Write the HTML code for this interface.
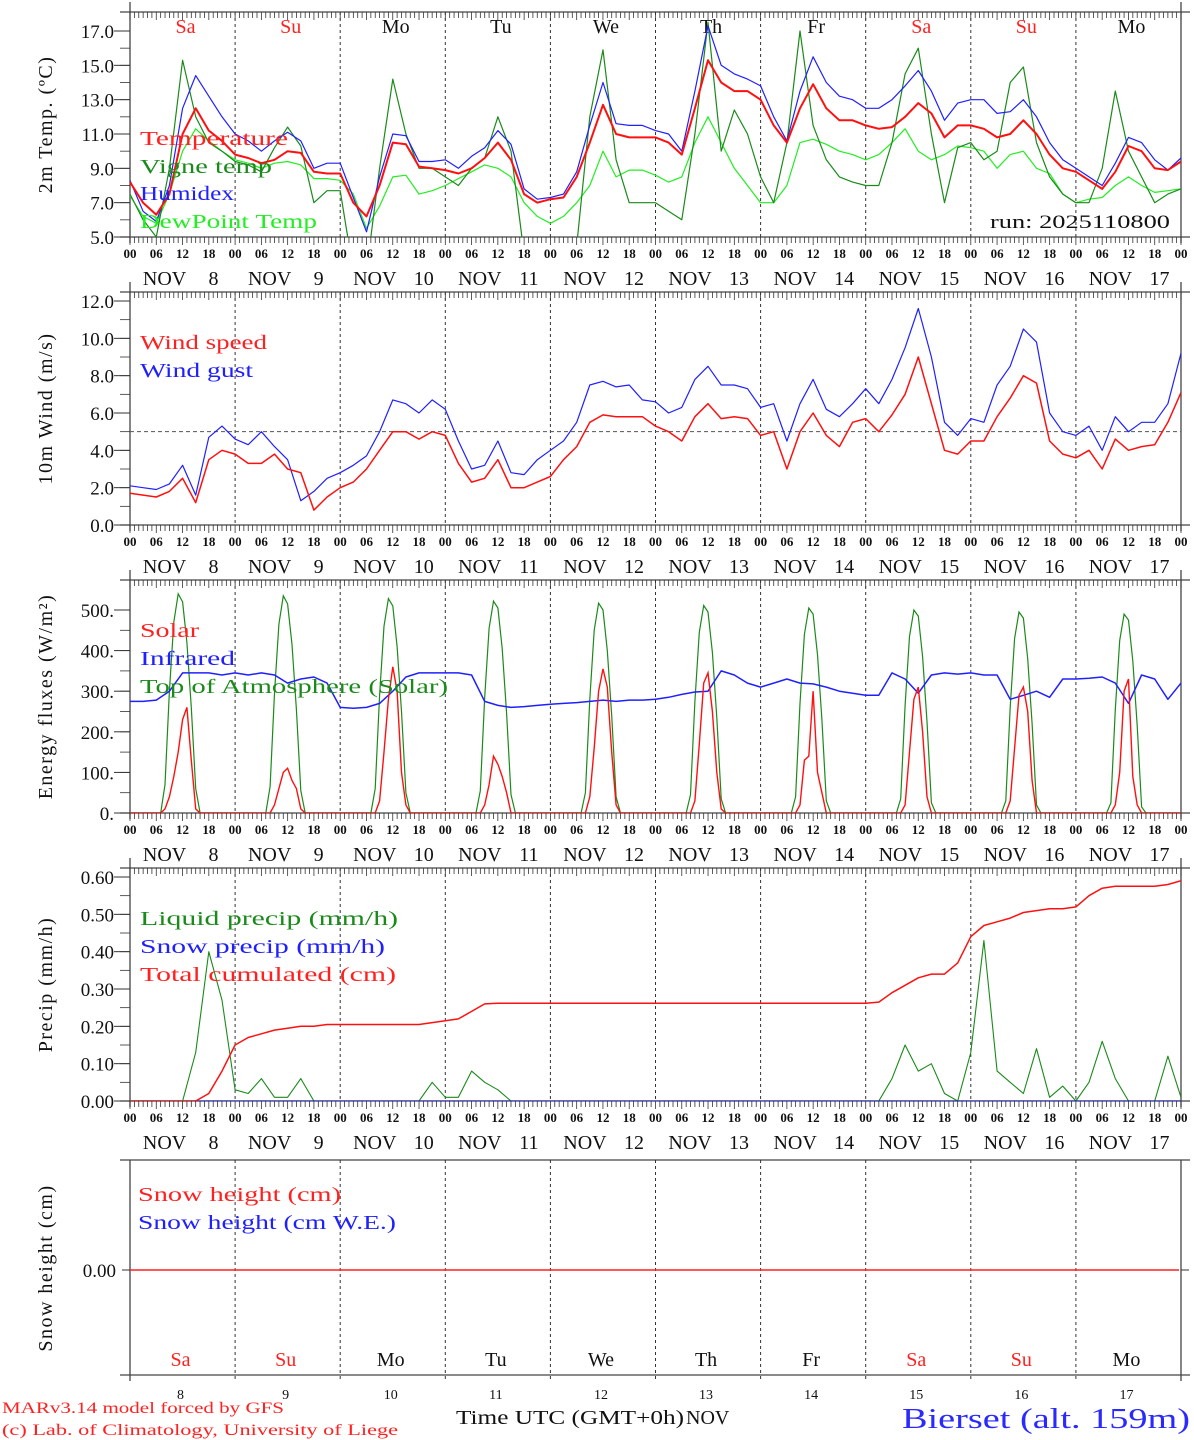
<!DOCTYPE html>
<html><head><meta charset="utf-8"><style>
html,body{margin:0;padding:0;background:#fff}
svg{display:block}
text{font-family:"Liberation Serif",serif}
</style></head><body>
<svg id="chart" width="1194" height="1440" viewBox="0 0 1194 1440" xmlns="http://www.w3.org/2000/svg"></svg>
<script>
// ---- data (3-hourly from Nov 8 00 UTC to Nov 18 00 UTC, 81 values) ----
const days = ["8","9","10","11","12","13","14","15","16","17"];
const dayNames = ["Sa","Su","Mo","Tu","We","Th","Fr","Sa","Su","Mo"];
const temperature = [8.2,7.0,6.3,7.5,11.0,12.5,11.2,10.6, 9.8,9.6,9.3,9.5,10.0,9.9,8.8,8.7, 8.7,7.0,6.2,8.0,10.5,10.4,9.1,9.0, 8.9,8.7,9.0,9.6,10.5,9.5,7.5,7.0, 7.2,7.3,8.5,10.5,12.7,11.0,10.8,10.8, 10.8,10.5,9.8,12.5,15.3,14.0,13.5,13.5, 13.0,11.5,10.5,12.5,13.9,12.5,11.8,11.8, 11.5,11.3,11.4,12.0,12.8,12.2,10.8,11.5, 11.5,11.3,10.8,11.0,11.8,11.0,9.8,9.0, 8.8,8.3,7.8,8.8,10.3,10.0,9.0,8.9,9.4];
const humidex = [8.3,6.5,5.9,8.0,12.5,14.4,13.2,12.0, 11.0,10.6,10.0,10.6,11.1,10.6,9.0,9.3, 9.3,7.3,5.3,8.5,11.0,10.9,9.4,9.4, 9.5,9.0,9.7,10.2,11.2,10.4,7.8,7.2, 7.3,7.5,8.8,11.5,14.0,11.6,11.5,11.5, 11.2,11.0,10.0,13.5,17.3,15.0,14.5,14.2, 13.8,12.0,10.6,13.5,15.5,14.0,13.2,13.0, 12.5,12.5,13.0,13.8,14.7,13.5,11.8,12.8, 13.0,13.0,12.2,12.3,13.0,12.0,10.5,9.5, 9.0,8.5,8.0,9.3,10.8,10.5,9.5,8.9,9.6];
const vigneTemp = [7.5,6.0,5.0,9.0,15.3,12.0,10.5,10.0, 9.4,9.2,8.8,10.2,11.4,10.3,7.0,7.7, 7.7,3.0,3.0,9.0,14.2,11.0,9.0,9.0, 8.5,8.0,9.0,9.6,12.0,10.0,4.0,3.0, 3.0,3.0,4.5,12.0,15.9,9.5,7.0,7.0, 7.0,6.5,6.0,11.0,17.5,10.0,12.4,11.0, 8.5,7.0,10.5,17.0,11.5,9.5,8.5,8.2, 8.0,8.0,10.5,14.5,16.0,11.0,7.0,10.2, 10.5,9.5,10.0,14.0,14.9,10.5,8.5,7.5, 7.0,7.0,9.0,13.5,10.0,8.5,7.0,7.5,7.8];
const dewPoint = [7.4,6.2,5.8,7.5,10.0,11.3,10.6,10.0, 9.5,9.3,9.0,9.3,9.4,9.2,8.4,8.4, 8.3,7.5,5.5,6.8,8.5,8.6,7.5,7.7, 8.0,8.4,8.8,9.2,9.0,8.5,7.0,6.2, 5.8,6.2,7.0,8.0,10.0,8.5,8.9,8.9, 8.6,8.2,8.5,10.5,12.0,10.5,9.0,8.0, 7.0,7.0,8.0,10.5,10.7,10.4,10.0,9.8, 9.5,9.8,10.5,11.3,10.0,9.5,9.8,10.3, 10.2,10.0,9.0,9.8,10.0,9.0,8.7,7.5, 7.0,7.2,7.3,8.0,8.5,8.0,7.6,7.7,7.8];
const windSpeed = [1.7,1.6,1.5,1.8,2.5,1.2,3.5,4.0, 3.8,3.3,3.3,3.8,3.0,2.8,0.8,1.5, 2.0,2.3,3.0,4.0,5.0,5.0,4.6,5.0, 4.8,3.3,2.3,2.5,3.5,2.0,2.0,2.3, 2.6,3.5,4.2,5.5,5.9,5.8,5.8,5.8, 5.3,5.0,4.5,5.8,6.5,5.7,5.8,5.7, 4.8,5.0,3.0,5.0,6.0,4.8,4.2,5.5, 5.7,5.0,5.9,7.0,9.0,6.5,4.0,3.8, 4.5,4.5,5.8,6.8,8.0,7.6,4.5,3.8, 3.6,4.0,3.0,4.6,4.0,4.2,4.3,5.5,7.1];
const windGust = [2.1,2.0,1.9,2.2,3.2,1.6,4.7,5.3, 4.6,4.3,5.0,4.2,3.5,1.3,1.8,2.5, 2.8,3.2,3.7,5.0,6.7,6.5,6.0,6.7, 6.2,4.5,3.0,3.2,4.5,2.8,2.7,3.5, 4.0,4.5,5.5,7.5,7.7,7.4,7.5,6.7, 6.6,6.0,6.3,7.8,8.5,7.5,7.5,7.3, 6.3,6.5,4.5,6.5,7.8,6.2,5.8,6.5, 7.3,6.5,7.8,9.5,11.6,9.0,5.5,4.8, 5.7,5.5,7.5,8.5,10.5,9.8,6.0,5.0, 4.8,5.3,4.0,5.8,5.0,5.5,5.5,6.5,9.2];
const infrared = [275,275,278,300,345,345,345,340, 345,340,345,340,320,330,335,320, 260,258,260,270,300,335,345,345, 345,345,340,275,265,260,262,265, 268,270,272,275,278,275,278,278, 280,285,292,298,300,350,340,320, 310,320,330,320,318,310,300,295, 290,290,345,330,295,340,345,342, 345,340,340,280,290,300,285,330, 330,332,335,320,270,340,330,280,320];
// hourly daylight values, hours 7..17 for each day
const solar = [
 [0,10,40,90,150,230,260,130,10,0,0],
 [0,0,20,60,100,110,80,60,10,0,0],
 [0,0,30,150,280,360,300,100,20,0,0],
 [0,0,20,70,140,120,90,50,0,0,0],
 [0,0,40,160,300,355,310,150,20,0,0],
 [0,0,30,170,320,345,250,100,10,0,0],
 [0,0,20,130,140,300,100,50,0,0,0],
 [0,0,20,150,280,310,200,40,0,0,0],
 [0,0,30,160,290,310,250,80,0,0,0],
 [0,0,20,100,300,330,90,20,0,0,0]];
const toa = [
 [0,70,300,470,540,520,420,260,60,0,0],
 [0,65,295,465,535,515,415,255,55,0,0],
 [0,60,290,460,528,510,410,250,50,0,0],
 [0,55,285,455,522,505,405,245,45,0,0],
 [0,50,280,450,517,500,400,240,40,0,0],
 [0,45,275,445,511,495,395,235,35,0,0],
 [0,40,270,440,505,490,390,230,30,0,0],
 [0,35,265,435,500,485,385,225,25,0,0],
 [0,30,260,430,495,480,380,220,20,0,0],
 [0,25,255,425,490,475,375,215,15,0,0]];
const liquidPrecip = [0,0,0,0,0,0.13,0.40,0.27, 0.03,0.02,0.06,0.01,0.01,0.06,0,0, 0,0,0,0,0,0,0,0.05, 0.01,0.01,0.08,0.05,0.03,0,0,0, 0,0,0,0,0,0,0,0, 0,0,0,0,0,0,0,0, 0,0,0,0,0,0,0,0, 0,0,0.06,0.15,0.08,0.10,0.02,0, 0.13,0.43,0.08,0.05,0.02,0.14,0.01,0.04, 0,0.05,0.16,0.06,0,0,0,0.12,0.01];
const totalCum = [0,0,0,0,0,0,0.02,0.08, 0.15,0.17,0.18,0.19,0.195,0.2,0.2,0.205, 0.205,0.205,0.205,0.205,0.205,0.205,0.205,0.21, 0.215,0.22,0.24,0.26,0.262,0.262,0.262,0.262, 0.262,0.262,0.262,0.262,0.262,0.262,0.262,0.262, 0.262,0.262,0.262,0.262,0.262,0.262,0.262,0.262, 0.262,0.262,0.262,0.262,0.262,0.262,0.262,0.262, 0.262,0.265,0.29,0.31,0.33,0.34,0.34,0.37, 0.44,0.47,0.48,0.49,0.505,0.51,0.515,0.515, 0.52,0.55,0.57,0.575,0.575,0.575,0.575,0.58,0.59];
const hourLabels = ["00","06","12","18"];

const S = document.getElementById('chart');
const NS = 'http://www.w3.org/2000/svg';
function mk(tag, at, parent){const e=document.createElementNS(NS,tag);for(const k in at)e.setAttribute(k,at[k]);(parent||S).appendChild(e);return e;}
function txt(s, at, parent){const e=mk('text',at,parent);e.textContent=s;return e;}
const X0=130, X1=1181;
const X = h => X0 + h*(X1-X0)/240;

const panels = [
 {name:'temperature-panel', top:12, bottom:237, vmin:5, vmax:17, p0:237, p1:31, labs:[5,7,9,11,13,15,17], fmt:v=>v.toFixed(1), minor:1, title:'2m Temp. (ºC)', tx:52},
 {name:'wind-panel', top:292, bottom:525, vmin:0, vmax:12, p0:525, p1:301, labs:[0,2,4,6,8,10,12], fmt:v=>v.toFixed(1), minor:1, title:'10m Wind (m/s)', tx:52},
 {name:'energy-panel', top:580, bottom:813, vmin:0, vmax:500, p0:813, p1:610, labs:[0,100,200,300,400,500], fmt:v=>v+'.', minor:50, title:'Energy fluxes (W/m²)', tx:52},
 {name:'precip-panel', top:868, bottom:1101, vmin:0, vmax:0.6, p0:1101, p1:877, labs:[0,0.1,0.2,0.3,0.4,0.5,0.6], fmt:v=>v.toFixed(2), minor:0.05, title:'Precip (mm/h)', tx:52}
];
panels.forEach(p=>{ p.Y = v => p.p0 + (v-p.vmin)*(p.p1-p.p0)/(p.vmax-p.vmin); });

function drawFrame(p){
  const g=mk('g',{});
  
  
  mk('line',{x1:120,y1:p.top,x2:1190,y2:p.top,stroke:'#444','stroke-width':1.3},g);
  mk('line',{x1:120,y1:p.bottom,x2:1190,y2:p.bottom,stroke:'#444','stroke-width':1.3},g);
  mk('line',{x1:X0,y1:p.top-10,x2:X0,y2:p.bottom+6,stroke:'#444','stroke-width':1.3},g);
  mk('line',{x1:X1,y1:p.top-10,x2:X1,y2:p.bottom+6,stroke:'#444','stroke-width':1.3},g);
  for(let h=0;h<=240;h++){
    const x=X(h);
    mk('line',{x1:x,y1:p.top,x2:x,y2:p.top+(h%6?6:8),stroke:'#333','stroke-width':0.8},g);
    mk('line',{x1:x,y1:p.bottom,x2:x,y2:p.bottom+(h%6?6:8),stroke:'#333','stroke-width':0.8},g);
    if(h%6===0){
      const l=txt(hourLabels[(h/6)%4],{x:x,y:p.bottom+21,'font-size':13,'text-anchor':'middle','font-weight':'bold',fill:'#111'},g);
      
      
    }
  }
  for(let d=1;d<10;d++) mk('line',{x1:X(24*d),y1:p.top,x2:X(24*d),y2:p.bottom,stroke:'#333','stroke-width':1,'stroke-dasharray':'3,3'},g);
  days.forEach((d,i)=>{
    const l=txt('NOV',{x:X(24*i+12)-18,y:p.bottom+48,'font-size':20,'text-anchor':'middle',fill:'#111'},g);
    
    
    txt(d,{x:X(24*i+12)+31,y:p.bottom+48,'font-size':20,'text-anchor':'middle',fill:'#111'},g);
  });
  for(let v=p.vmin; v<=p.vmax+1e-9; v+=p.minor){
    const y=p.Y(v);
    mk('line',{x1:X0-10,y1:y,x2:X0,y2:y,stroke:'#333','stroke-width':0.8},g);
  }
  p.labs.forEach(v=>{
    const y=p.Y(v);
    mk('line',{x1:X0-16,y1:y,x2:X0,y2:y,stroke:'#333','stroke-width':1},g);
    const l=txt(p.fmt(v),{x:X0-16,y:y+7,'font-size':19,'text-anchor':'end',fill:'#111'},g);
    
    
  });
  const cy=(p.top+p.bottom)/2;
  const t=txt(p.title,{x:p.tx,y:cy,'font-size':20,'text-anchor':'middle',fill:'#111',transform:`rotate(-90 ${p.tx} ${cy})`,'letter-spacing':'1.5'},g);
  
  
  const cp=mk('clipPath',{id:'clip-'+p.name},g);
  mk('rect',{x:X0,y:p.top,width:X1-X0,height:p.bottom-p.top},cp);
  return g;
}
function series(p, vals, color, w, name, step){
  step = step||3;
  const pts = vals.map((v,i)=>X(i*step).toFixed(1)+','+p.Y(v).toFixed(1)).join(' ');
  const e=mk('polyline',{points:pts,fill:'none',stroke:color,'stroke-width':w,'clip-path':`url(#clip-${p.name})`,'stroke-linejoin':'round'});
  
  
  return e;
}
function dailySeries(p, arr, color, w, name){
  const pts=[];
  for(let d=0; d<10; d++){
    if(d===0) pts.push([0,0]);
    arr[d].forEach((v,k)=>pts.push([24*d+7+k, v]));
  }
  pts.push([240,0]);
  const e=mk('polyline',{points:pts.map(q=>X(q[0]).toFixed(1)+','+p.Y(q[1]).toFixed(1)).join(' '),fill:'none',stroke:color,'stroke-width':w,'clip-path':`url(#clip-${p.name})`});
  
  
}
function legend(s, x, y, color, len, name){
  const e=txt(s,{x:x,y:y,'font-size':20,fill:color,textLength:len,lengthAdjust:'spacingAndGlyphs'});
  
  
}

panels.forEach(drawFrame);
const [P1,P2,P3,P4]=panels;

// Panel 1
dayNames.forEach((n,i)=>{
  const e=txt(n,{x:X(24*i+12)+3,y:33,'font-size':20,'text-anchor':'middle',fill:(n==='Sa'||n==='Su')?'#ff2020':'#111'});
  
  
});
series(P1, dewPoint, '#22ee22', 1.2, 'dewpoint-line');
series(P1, vigneTemp, '#1a8a1a', 1.2, 'vigne-temp-line');
series(P1, humidex, '#2020ff', 1.2, 'humidex-line');
series(P1, temperature, '#ff1010', 2, 'temperature-line');
legend('Temperature',140,145,'#ff2020',148,'legend-temperature');
legend('Vigne temp',140,173,'#1a8a1a',132,'legend-vigne-temp');
legend('Humidex',140,200,'#2020ff',94,'legend-humidex');
legend('DewPoint Temp',140,228,'#22ee22',177,'legend-dewpoint');
{const e=txt('run: 2025110800',{x:1170,y:228,'font-size':19,'text-anchor':'end',fill:'#111',textLength:180,lengthAdjust:'spacingAndGlyphs'});

}

// Panel 2
{const e=mk('line',{x1:X0,y1:P2.Y(5),x2:X1,y2:P2.Y(5),stroke:'#555','stroke-width':1,'stroke-dasharray':'4,3'});

}
series(P2, windGust, '#2020ff', 1.2, 'wind-gust-line');
series(P2, windSpeed, '#ff1010', 1.5, 'wind-speed-line');
legend('Wind speed',140,349,'#ff2020',127,'legend-wind-speed');
legend('Wind gust',140,377,'#2020ff',113,'legend-wind-gust');

// Panel 3
dailySeries(P3, toa, '#1a8a1a', 1.2, 'toa-solar-line');
series(P3, infrared, '#2020ff', 1.5, 'infrared-line');
dailySeries(P3, solar, '#ff1010', 1.4, 'solar-line');
legend('Solar',140,637,'#ff2020',59,'legend-solar');
legend('Infrared',140,665,'#2020ff',95,'legend-infrared');
legend('Top of Atmosphere (Solar)',140,693,'#1a8a1a',308,'legend-toa');

// Panel 4
series(P4, liquidPrecip, '#1a8a1a', 1.1, 'liquid-precip-line');
series(P4, liquidPrecip.map(()=>0), '#2020ff', 1.2, 'snow-precip-line');
series(P4, totalCum, '#ff1010', 1.5, 'total-cumulated-line');
legend('Liquid precip (mm/h)',140,925,'#1a8a1a',258,'legend-liquid-precip');
legend('Snow precip (mm/h)',140,953,'#2020ff',245,'legend-snow-precip');
legend('Total cumulated (cm)',140,981,'#ff2020',256,'legend-total-cumulated');

// Panel 5 snow
{
 const g=mk('g',{});
 
 
 const top=1160, bot=1375;
 mk('line',{x1:120,y1:top,x2:1190,y2:top,stroke:'#444','stroke-width':1.3},g);
 mk('line',{x1:120,y1:bot,x2:1190,y2:bot,stroke:'#444','stroke-width':1.3},g);
 mk('line',{x1:X0,y1:top,x2:X0,y2:bot+6,stroke:'#444','stroke-width':1.3},g);
 mk('line',{x1:X1,y1:top,x2:X1,y2:bot+6,stroke:'#444','stroke-width':1.3},g);
 for(let d=1;d<10;d++) mk('line',{x1:X(24*d),y1:top,x2:X(24*d),y2:bot+6,stroke:'#333','stroke-width':1,'stroke-dasharray':'3,3'},g);
 mk('line',{x1:X0-8,y1:1270,x2:X0,y2:1270,stroke:'#333'},g);
 mk('line',{x1:X1,y1:1270,x2:X1+8,y2:1270,stroke:'#333'},g);
 const l=txt('0.00',{x:X0-14,y:1277,'font-size':19,'text-anchor':'end',fill:'#111'},g);
 
 
 const t=txt('Snow height (cm)',{x:52,y:1268,'font-size':20,'text-anchor':'middle',fill:'#111',transform:'rotate(-90 52 1268)','letter-spacing':'1.5'},g);
 
 
 const ln=mk('line',{x1:X0,y1:1270,x2:X1-2,y2:1270,stroke:'#ff2020','stroke-width':1.5},g);
 
 
 legend('Snow height (cm)',138,1201,'#ff2020',203,'legend-snow-height');
 legend('Snow height (cm W.E.)',138,1229,'#2020ff',258,'legend-snow-we');
 dayNames.forEach((n,i)=>{
  const e=txt(n,{x:X(24*i+12)-2,y:1366,'font-size':20,'text-anchor':'middle',fill:(n==='Sa'||n==='Su')?'#ff2020':'#111'},g);
  
  
  const f=txt(days[i],{x:X(24*i+12)-2,y:1399,'font-size':14,'text-anchor':'middle',fill:'#111'},g);
  
  
 });
}
{
 let e=txt('Time UTC (GMT+0h)',{x:456,y:1424,'font-size':20,fill:'#111',textLength:228,lengthAdjust:'spacingAndGlyphs'});
 
 
 e=txt('NOV',{x:686,y:1424,'font-size':20,fill:'#111'});
 
 
 e=txt('MARv3.14 model forced by GFS',{x:2,y:1413,'font-size':16,fill:'#ff2020',textLength:282,lengthAdjust:'spacingAndGlyphs'});
 
 
 e=txt('(c) Lab. of Climatology, University of Liege',{x:2,y:1435,'font-size':16,fill:'#ff2020',textLength:396,lengthAdjust:'spacingAndGlyphs'});
 
 
 e=txt('Bierset (alt. 159m)',{x:1190,y:1428,'font-size':28,fill:'#2a2aff','text-anchor':'end',textLength:288,lengthAdjust:'spacingAndGlyphs'});
 
 
}
</script>
</body></html>
